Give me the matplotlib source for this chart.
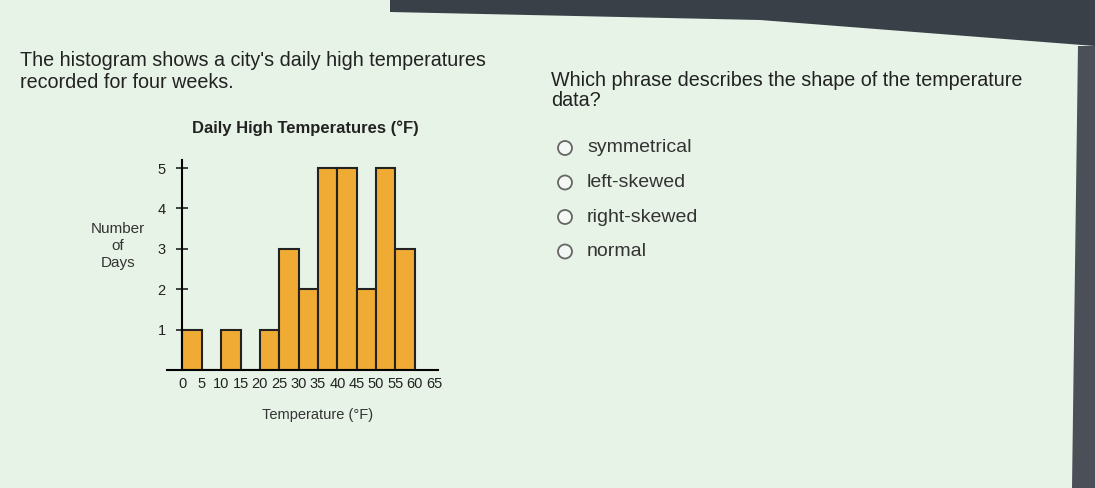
import matplotlib.pyplot as plt
from matplotlib.patches import Polygon, Ellipse
import numpy as np

plt.rcParams["font.family"] = ["Liberation Sans", "DejaVu Sans"]

# histogram data: 5-degree bins from 0 to 60
bin_edges = [0, 5, 10, 15, 20, 25, 30, 35, 40, 45, 50, 55, 60]
day_counts = [1, 0, 1, 0, 1, 3, 2, 5, 5, 2, 5, 3]
x_ticks = [0, 5, 10, 15, 20, 25, 30, 35, 40, 45, 50, 55, 60, 65]
y_ticks = [1, 2, 3, 4, 5]

chart_title = "Daily High Temperatures (°F)"
x_label = "Temperature (°F)"
y_label = "Number\nof\nDays"
intro_lines = ["The histogram shows a city's daily high temperatures",
               "recorded for four weeks."]
question_lines = ["Which phrase describes the shape of the temperature", "data?"]
choices = ["symmetrical", "left-skewed", "right-skewed", "normal"]

W, H = 1095, 488
fig = plt.figure(figsize=(W / 100, H / 100), dpi=100)
fig.patch.set_facecolor("#e7f3e6")


def fx(px):
    return px / W


def fy(py):
    return 1 - py / H


# screen frame: dark toolbar at the top and edge at the right
fig.patches.append(Polygon([[fx(390), 1], [1, 1], [1, fy(46)], [fx(760), fy(20)], [fx(390), fy(12)]],
                           closed=True, transform=fig.transFigure, facecolor="#3a4048",
                           edgecolor="none", zorder=0))
fig.patches.append(Polygon([[fx(1078), fy(46)], [1, fy(46)], [1, 0], [fx(1072), 0]],
                           closed=True, transform=fig.transFigure, facecolor="#4a4f58",
                           edgecolor="none", zorder=0))

for i, line in enumerate(intro_lines):
    fig.text(fx(20), fy(61 + i * 22), line, fontsize=14.2, color="#222222", va="center")
for i, line in enumerate(question_lines):
    fig.text(fx(551), fy(81 + i * 20), line, fontsize=14.2, color="#222222", va="center")

for i, label in enumerate(choices):
    yy = 148 + i * 34.5
    fig.patches.append(Ellipse((fx(565), fy(yy)), width=14 / W, height=14 / H,
                               transform=fig.transFigure, facecolor="#f4f8f4",
                               edgecolor="#666666", linewidth=1.3))
    fig.text(fx(587), fy(yy), label, fontsize=14, color="#333333", va="center")

ax = fig.add_axes([fx(167), fy(370), fx(438) - fx(167), fy(160) - fy(370)])
ax.set_facecolor("none")
widths = np.diff(bin_edges)
ax.bar(bin_edges[:-1], day_counts, width=widths, align="edge",
       color="#f0ab35", edgecolor="#222222", linewidth=1.5)

ax.set_xlim(-4, 66)
ax.set_ylim(0, 5.2)
ax.spines["left"].set_position(("data", 0))
ax.spines["top"].set_visible(False)
ax.spines["right"].set_visible(False)
ax.spines["left"].set_linewidth(1.5)
ax.spines["bottom"].set_linewidth(1.5)
ax.set_xticks(x_ticks)
ax.set_yticks(y_ticks)
ax.tick_params(axis="x", length=0, labelsize=10.5, pad=5, colors="#222222")
ax.tick_params(axis="y", direction="inout", length=8, width=1.2, labelsize=10.5, pad=8,
               colors="#222222")

fig.text(fx(305), fy(128), chart_title, fontsize=12, fontweight="bold",
         color="#222222", ha="center", va="center")
fig.text(fx(318), fy(415), x_label, fontsize=10.5, color="#333333", ha="center", va="center")
fig.text(fx(118), fy(246), y_label, fontsize=11, color="#333333", ha="center",
         va="center", linespacing=1.25)

fig.savefig("out.png", dpi=100)
